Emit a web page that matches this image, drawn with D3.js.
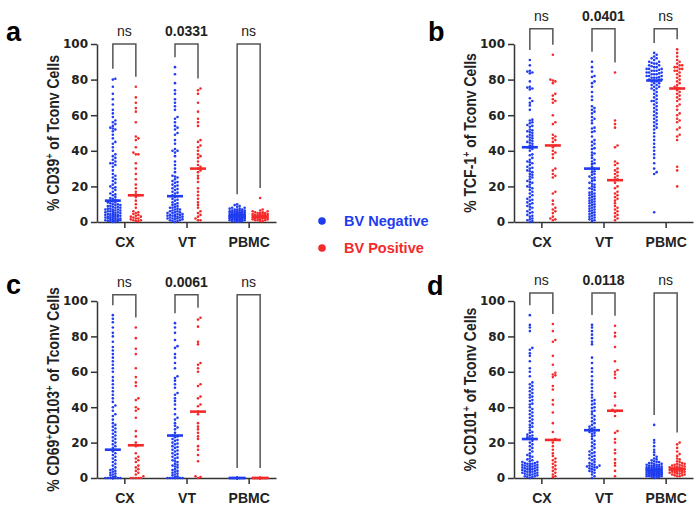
<!DOCTYPE html>
<meta charset="utf-8">
<script src="https://d3js.org/d3.v7.min.js"></script>
<style>
  body { margin: 0; background: #fff; }
  svg text { font-family: "Liberation Sans", Arial, sans-serif; }
</style>
<body>
<div id="chart"></div>
<script>
// categories and axis ticks
var groups = ["CX", "VT", "PBMC"];
var yTicks = [0, 20, 40, 60, 80, 100];
var legendLabels = ["BV Negative", "BV Positive"];

// panel a : CD39+
var cd39Neg = [
  [80.5,80,76,72,69,66,63,61,59,57,56,55,54,53,52.5,52,51,49,47,45,44,42,40,38,37,36,35,34,33,33,32,31,29,27,26,25,24,23,22,21,20,19.5,19,18,17,16,15.5,15,14,13.5,13,12.5,12,12,11.5,11,11,10.5,10,10,9.5,9.5,9,9,8.5,8.5,8,8,7.5,7.5,7,7,7,6.5,6.5,6,6,6,5.5,5.5,5,5,5,4.5,4.5,4,4,4,4,3.5,3.5,3,3,3,3,2.5,2.5,2,2,2,2,1.5,1.5,1,1,1,1,0.5,0.5,0.5,0,0],
  [87,83,78,74,72,69,67,65,63,59,58,56,54,53,52,50,49,46,44,41,40,40,39,37,34,32,30,28,26,25.5,25,24,23,22.5,22,21,20.5,20,19,18.5,18,17,16.5,16,15,14.5,14,13,12.5,12,11,10.5,10,9.5,9,8.5,8,8,7.5,7,7,6.5,6,6,5.5,5.5,5,5,4.5,4.5,4,4,4,3.5,3.5,3,3,3,2.5,2.5,2,2,2,1.5,1.5,1,1,0.5,0.5,0],
  [10,9.5,9,8.5,8,8,7.5,7.5,7,7,7,6.5,6.5,6.5,6,6,6,6,5.5,5.5,5.5,5.5,5,5,5,5,5,4.5,4.5,4.5,4.5,4.5,4.5,4,4,4,4,4,4,4,3.5,3.5,3.5,3.5,3.5,3.5,3.5,3,3,3,3,3,3,3,3,2.5,2.5,2.5,2.5,2.5,2.5,2.5,2,2,2,2,2,2,1.5,1.5,1.5,1.5,1.5,1,1,1,1,0.5,0.5,0.5,0.2,0.1]
];
var cd39Pos = [
  [76,70,67,64,62,56,48,47,46,42,39,38,38,33,30,27,24,21,19,17,15.5,15,14,12,10,8,6,5.5,5,4.5,4,3.5,3,3,2.5,2,2,1.5,1,1,0.5,0.5],
  [75,74,72,67,62,58,56,54,46,45,43,42,40,38,37,36,34,32,31,30,29,28,26,24.5,22.5,19,17,15,13,11,9.5,8,6,5,4,3,2,1,1],
  [13.5,7,6.5,6,6,5.5,5.5,5,5,5,4.5,4.5,4.5,4,4,4,4,3.5,3.5,3.5,3.5,3,3,3,3,3,2.5,2.5,2.5,2.5,2,2,2,2,1.5,1.5,1.5,1,1,1,0.5,0.5]
];
var cd39MedNeg = [12, 14.5, 3.5];
var cd39MedPos = [15, 30, 3];
var cd39P = ["ns", "0.0331", "ns"];

// panel b : TCF-1+
var tcfNeg = [
  [91,88,85,84.5,84,83.5,79,76,75.5,75,74.5,69.5,68,67,65.5,63,57.5,57,56,55.5,54.5,54,53.5,52,51.5,51,50.5,50,49,48.5,48,47.5,47,46,45.5,45,44.5,44,43,42.5,42,41.5,41,40,38,37.5,36,35,34,33.5,33,32,31,30.5,30,29,28.5,28,27,26.5,25.5,25,24,23,22.5,22,21,20,19.5,19,18,17,16,15,14,13,12.5,12,11,10.5,10,9,8.5,8,7,6,5.5,5,4,3.5,3,2,1.5,1,0.5,0],
  [90,87,84.5,82,81.5,79,78,76,73,70.5,68.5,65,64,63,62,61,59,58,57,55.5,53,52.5,51,50.5,48,46,45,44,43,41.5,41,39,38.5,37.5,36,35,34,33,32.5,31,30,29.5,28.5,28,27,26.5,25.5,25,24.5,23.5,23,22,21.5,21,20,19.5,19,18.5,18,17,16.5,16,15.5,15,14.5,14,13.5,13,12.5,12,11.5,11,10.5,10,9.5,9,8.5,8,7.5,7,6.5,6,5.5,5,4.5,4,3.5,3,2.5,2,1.5,1,0.5],
  [95,94,93,92,92,91,90,90,89.5,89,89,88,88,87.5,87,87,86,86,86,85.5,85,85,85,84,84,84,83.5,83,83,83,82,82,82,81.5,81,81,81,80,80,80,79.5,79,79,78,78,77,77,76,76,75,75,74,73,72,71,70,69,68,68,67,66,65,64,63,62,61,60,59,58,57,56,55,54,53,52,50,48,46,44,42,40,38,36,33,30,28,27,5.5]
];
var tcfPos = [
  [94,80,79.5,79,78,72,71,69,68,67,60,56,55,49,48,47,46,45,43,42,40,39,38,36,30,29,27,26,25,17,16,12,10,8,7,6,5,3,2,1.5,1],
  [84,57,55,53,43,42,34,33,32,30,29,28,27,26,25,24,23.5,22,20,19,17,16,15,14,13,12,10.5,9,8,7,6,5,4,3,2,1],
  [97,95,93,91,90,89,88,88,87,87,86,86,85,85,84,83,82,81,80,79,78,77,76,75.5,75,74,73,72,71,70,69,68,66,65,63,61,60,58,57,56,53,52,49,48,46,31,29,20]
];
var tcfMedNeg = [42, 30, 79.5];
var tcfMedPos = [43, 23.5, 75];
var tcfP = ["ns", "0.0401", "ns"];

// panel c : CD69+CD103+
var cd69Neg = [
  [92,90,88,85,82,80,77,74,72,70,68,66,64,62,60,57,55,53,51,49,47,45,43,41,40,38,36,35,33,31,30,29,28,27,26,25,24,23,22,21,20,19,18,17,16,15,14,13,12,11,10,9,8,7,6,5,4.5,4,3.5,3,2.5,2,1.5,1,0.5,0,0,0,0,0,0,0,0,0,0,0,0],
  [87.5,85,82,78,74.5,73.5,70,68,65,62,57.5,56.5,55,53,51,48,47,45,43.5,41.5,39,36,34,33,31,29.5,28.5,27.5,25.5,24,23.5,23,22,21.5,21,20,19.5,19,18,17.5,17,16,15.5,15,14,13.5,13,12,11.5,11,10,9.5,9,8,7.5,7,6.5,6,5,4.5,4,3.5,3,2.5,2,1.5,1,0.5,0,0,0,0,0,0,0,0],
  [0,0,0,0,0,0,0,0,0,0,0,0,0,0,0,0,0,0,0,0]
];
var cd69Pos = [
  [85,79,73,70,62,57,54,52,45,44,40,39,38,34,26.5,23.5,20,18.5,18,14,12,11,10,9,7,6,5,4,3,2,1,0,0,0,0,0],
  [90.5,89.5,85.5,77,75.5,65,64,62,60,53,52,46,45,41.5,40.5,37.5,36,31,29,27.5,25.5,23.5,22,18,16,13,9.5,1,0.5,0],
  [0,0,0,0,0,0,0,0,0,0,0,0,0,0,0,0]
];
var cd69MedNeg = [16, 24, 0];
var cd69MedPos = [18.5, 37.5, 0];
var cd69P = ["ns", "0.0061", "ns"];

// panel d : CD101+
var cd101Neg = [
  [92,86.5,85,83,73.5,72.5,70.5,69,66,62,60,57.5,54,53,52,51,50,49,48,47,46,45.5,44,43.5,42,41.5,40,39,38,37,36,35,34,33,32,31,30,29,28.5,27,26,25.5,24.5,24,23.5,23,22.5,22,21,20,19,18,17,16,15,14,13,12.5,12,11,10.5,10,9.5,9,9,8.5,8.5,8,8,8,7.5,7.5,7,7,7,6.5,6.5,6,6,6,5.5,5.5,5,5,5,4.5,4.5,4,4,4,3.5,3.5,3,3,3,2.5,2.5,2,2,1.5,1.5,1,1,0.5,0.5,0],
  [86.5,85,83,81,79,77,75.5,68,65,62,60,57.5,55,53,51,49,47,45.5,44,43.5,42,41.5,40,39.5,38,37.5,36,35,34,33,32,31,30,29,28.5,28,27.5,27,26.5,26,25.5,25,24,23.5,22,21,20,19,18,17,16,15,14.5,14,13,12.5,12,11,10.5,10,9,8.5,8,7.5,7,7,6.5,6.5,6,6,5.5,5,4.5,4,3.5,3,2,1,0],
  [30,21.5,20,18,16,14.5,13,12,11,10.5,10,9.5,9,9,8.5,8.5,8,8,7.5,7.5,7.5,7,7,7,6.5,6.5,6.5,6,6,6,6,5.5,5.5,5.5,5.5,5,5,5,5,5,4.5,4.5,4.5,4.5,4.5,4,4,4,4,4,4,3.5,3.5,3.5,3.5,3.5,3.5,3,3,3,3,3,3,3,2.5,2.5,2.5,2.5,2.5,2.5,2,2,2,2,2,2,1.5,1.5,1.5,1.5,1.5,1,1,1,1,0.5,0.5,0.5,0]
];
var cd101Pos = [
  [87,83,78,77,69,64,59.5,58.5,58,57,52,50,44,41.5,37,31,26,22,21.5,20,18,16,14,12.5,11,10,9,8,7,6,5,4,3,2,1,0.5],
  [86,82,80,74,66,61,60,58.5,56.5,48,46,41,38.5,38,37.5,35,26.5,25.5,22,20,16,14,10.5,8.5,7,4,1],
  [20,19,17,15,13.5,12.5,11,10.5,9.5,9,8.5,8,8,7.5,7.5,7,7,6.5,6.5,6,6,6,5.5,5.5,5.5,5,5,5,4.5,4.5,4.5,4,4,4,3.5,3.5,3.5,3,3,3,2.5,2.5,2,2,1.5,1.5,1,1]
];
var cd101MedNeg = [22, 27, 4.5];
var cd101MedPos = [21.5, 38, 5];
var cd101P = ["ns", "0.0118", "ns"];

var blue = "#1f3cf0", red = "#f42a2a";

var svg = d3.select("#chart").append("svg")
  .attr("width", 700)
  .attr("height", 509);

// panel layouts
var panels = [
  {letter: "a", lx: 6, ly: 41, x0: 97, x1: 276, top: 44, bot: 222, title: ["% CD39", "+", " of Tconv Cells"], neg: cd39Neg, pos: cd39Pos, medNeg: cd39MedNeg, medPos: cd39MedPos, p: cd39P, bracket: 100},
  {letter: "b", lx: 428, ly: 41, x0: 514, x1: 693, top: 44, bot: 222, title: ["% TCF-1", "+", " of Tconv Cells"], neg: tcfNeg, pos: tcfPos, medNeg: tcfMedNeg, medPos: tcfMedPos, p: tcfP, bracket: 108.5},
  {letter: "c", lx: 6, ly: 294, x0: 97, x1: 276, top: 301, bot: 478, title: ["% CD69", "+", "CD103", "+", " of Tconv Cells"], neg: cd69Neg, pos: cd69Pos, medNeg: cd69MedNeg, medPos: cd69MedPos, p: cd69P, bracket: 103.5},
  {letter: "d", lx: 427, ly: 295, x0: 514, x1: 693, top: 301, bot: 478, title: ["% CD101", "+", " of Tconv Cells"], neg: cd101Neg, pos: cd101Pos, medNeg: cd101MedNeg, medPos: cd101MedPos, p: cd101P, bracket: 104.5}
];

// simple beeswarm: keep y, shift x in steps until no overlap
function swarm(values, cx, y) {
  var step = 2.5, minD = 2.3, maxOff = 9;
  var sorted = values.slice().sort(function(a, b) { return a - b; });
  var placed = [];
  sorted.forEach(function(v) {
    var py = y(v);
    var found = null, bestOff = 0, bestD = -1;
    for (var k = 0; k < 12; k++) {
      var off = k === 0 ? 0 : (k % 2 ? 1 : -1) * Math.ceil(k / 2) * step;
      if (Math.abs(off) > maxOff) break;
      var dmin = Infinity;
      placed.forEach(function(p) {
        if (Math.abs(p.y - py) < minD) {
          var d = Math.hypot(p.x - (cx + off), p.y - py);
          if (d < dmin) dmin = d;
        }
      });
      if (dmin >= minD) { found = off; break; }
      if (dmin > bestD) { bestD = dmin; bestOff = off; }
    }
    placed.push({x: cx + (found === null ? bestOff : found), y: py});
  });
  return placed;
}

panels.forEach(function(P) {
  var y = d3.scaleLinear().domain([0, 100]).range([P.bot, P.top]);
  var x = d3.scalePoint().domain(groups).range([P.x0, P.x1]).padding(0.44);
  var g = svg.append("g");

  // y axis
  var yAxis = g.append("g")
    .attr("transform", "translate(" + P.x0 + ",0)")
    .call(d3.axisLeft(y).tickValues(yTicks).tickSize(6).tickSizeOuter(0).tickPadding(3));
  yAxis.selectAll("text")
    .style("font-family", "'DejaVu Sans', sans-serif")
    .style("font-size", "12px").style("font-weight", "bold").attr("fill", "#222");

  // x axis
  var xAxis = g.append("g")
    .attr("transform", "translate(0," + P.bot + ")")
    .call(d3.axisBottom(x).tickSize(6).tickSizeOuter(0).tickPadding(9));
  xAxis.selectAll("text").style("font-size", "14px").style("font-weight", "bold").attr("fill", "#222");
  [yAxis, xAxis].forEach(function(a) {
    a.select(".domain").attr("stroke", "#333").attr("stroke-width", 1.5);
    a.selectAll(".tick line").attr("stroke", "#333").attr("stroke-width", 1.5);
  });

  // y title (glyphs a bit wider, as in the original export)
  var tx = P.x0 - 38, ty = (P.top + P.bot) / 2;
  var title = g.append("text")
    .attr("transform", "translate(" + tx + "," + ty + ") rotate(-90) scale(1,1.2)")
    .attr("text-anchor", "middle")
    .style("font-size", "14px").style("font-weight", "bold").attr("fill", "#222");
  P.title.forEach(function(t, i) {
    var sup = t === "+";
    title.append("tspan").text(t)
      .style("font-size", sup ? "9px" : "14px")
      .attr("dy", sup ? -5 : (i > 0 ? 5 : 0));
  });

  // panel letter
  g.append("text").attr("x", P.lx).attr("y", P.ly).text(P.letter)
    .style("font-size", "27px").style("font-weight", "bold").attr("fill", "#000");

  groups.forEach(function(c, i) {
    var sets = [
      {vals: P.neg[i], med: P.medNeg[i], col: blue, cx: x(c) - 11.5},
      {vals: P.pos[i], med: P.medPos[i], col: red, cx: x(c) + 11.5}
    ];
    sets.forEach(function(s) {
      g.append("g").selectAll("circle")
        .data(swarm(s.vals, s.cx, y))
        .enter().append("circle")
        .attr("cx", function(d) { return d.x; })
        .attr("cy", function(d) { return d.y; })
        .attr("r", 1.3)
        .attr("fill", s.col);
      g.append("line")
        .attr("x1", s.cx - 8).attr("x2", s.cx + 8)
        .attr("y1", y(s.med)).attr("y2", y(s.med))
        .attr("stroke", s.col).attr("stroke-width", 2.6);
    });

    // significance bracket
    var yt = y(P.bracket);
    var legL = Math.max(yt + 8, y(d3.max(P.neg[i])) - 10);
    var legR = Math.max(yt + 8, y(d3.max(P.pos[i])) - 10);
    g.append("path")
      .attr("d", "M" + sets[0].cx + "," + legL + "V" + yt + "H" + sets[1].cx + "V" + legR)
      .attr("fill", "none").attr("stroke", "#555").attr("stroke-width", 1.5);
    g.append("text")
      .attr("x", x(c)).attr("y", yt - 8)
      .attr("text-anchor", "middle")
      .text(P.p[i])
      .style("font-size", "14px")
      .style("font-weight", P.p[i] === "ns" ? "normal" : "bold")
      .attr("fill", "#222");
  });
});

// legend
var legend = svg.append("g");
legendLabels.forEach(function(l, i) {
  var ly = 221 + i * 27;
  legend.append("circle").attr("cx", 322).attr("cy", ly).attr("r", 3.8).attr("fill", i ? red : blue);
  legend.append("text").attr("x", 344).attr("y", ly + 5).text(l)
    .style("font-size", "14.5px").style("font-weight", "bold").attr("fill", i ? red : blue);
});
</script>
</body>
